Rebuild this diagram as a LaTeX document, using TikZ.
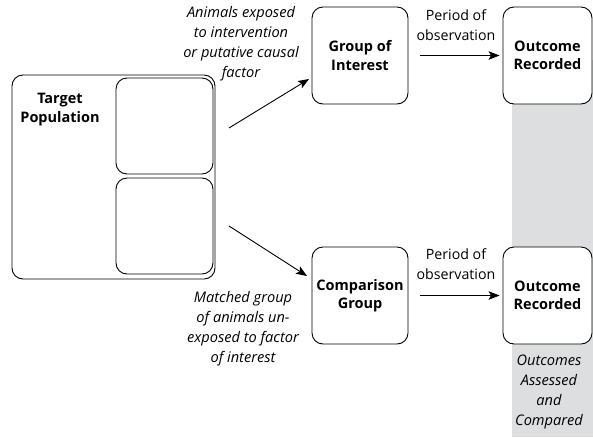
\documentclass[tikz,border=0pt]{standalone}
\usepackage{fontspec}
\setmainfont{Open Sans}
\usetikzlibrary{arrows.meta}
\definecolor{bandgray}{RGB}{221,222,224}
\begin{document}
\begin{tikzpicture}[x=1pt,y=-1pt,
  box/.style={draw,line width=0.9pt,rounded corners=11pt,fill=white,inner sep=0pt,
    align=center,font=\fontsize{14.5}{18.5}\selectfont\bfseries},
  note/.style={align=center,font=\fontsize{14.6}{20}\selectfont\itshape},
  lbl/.style={align=center,font=\fontsize{14.2}{19.5}\selectfont},
  arr/.style={line width=0.9pt,-{Stealth[length=11pt,width=8.5pt,inset=2.5pt]}}]
\useasboundingbox (0,0) rectangle (593,437);
% shaded column behind the outcome boxes
\fill[bandgray] (512,60) rectangle (593,437);
% target population with its two subgroups
\node[box,minimum width=203pt,minimum height=204pt] (tp) at (113.5,177) {};
\node[box,minimum width=97pt,minimum height=96pt] (sub1) at (164.5,126) {};
\node[box,minimum width=97pt,minimum height=96pt] (sub2) at (164.5,226) {};
\node[align=center,font=\fontsize{14.5}{18.5}\selectfont\bfseries] (tplabel) at (60,109.5) {Target\\Population};
% groups and outcomes
\node[box,minimum width=96pt,minimum height=97pt] (goi) at (360,55.5) {Group of\\Interest};
\node[box,minimum width=89pt,minimum height=97pt] (out1) at (547.5,55.5) {Outcome\\Recorded};
\node[box,minimum width=96pt,minimum height=97pt] (cmp) at (360,295.5) {Comparison\\Group};
\node[box,minimum width=89pt,minimum height=97pt] (out2) at (547.5,295.5) {Outcome\\Recorded};
% diagonal connectors
\coordinate (a1s) at (229,128);
\coordinate (a1e) at (309,79);
\coordinate (a2s) at (229,226);
\coordinate (a2e) at (307,276);
\draw[arr] (a1s) -- (a1e);
\draw[arr] (a2s) -- (a2e);
% observation periods
\draw[arr,shorten <=12pt,shorten >=3pt] (goi.east) -- (out1.west);
\draw[arr,shorten <=12pt,shorten >=3pt] (cmp.east) -- (out2.west);
\node[lbl] (p1) at (456,25) {Period of\\observation};
\node[lbl] (p2) at (456,264) {Period of\\observation};
% annotations
\node[note] (n1) at (241,44) {Animals exposed\\to intervention\\or putative causal\\factor};
\node[note] (n2) at (243,329) {Matched group\\of animals un-\\exposed to factor\\of interest};
\node[note] (n3) at (549,392) {Outcomes\\Assessed\\and\\Compared};
\end{tikzpicture}
\end{document}
